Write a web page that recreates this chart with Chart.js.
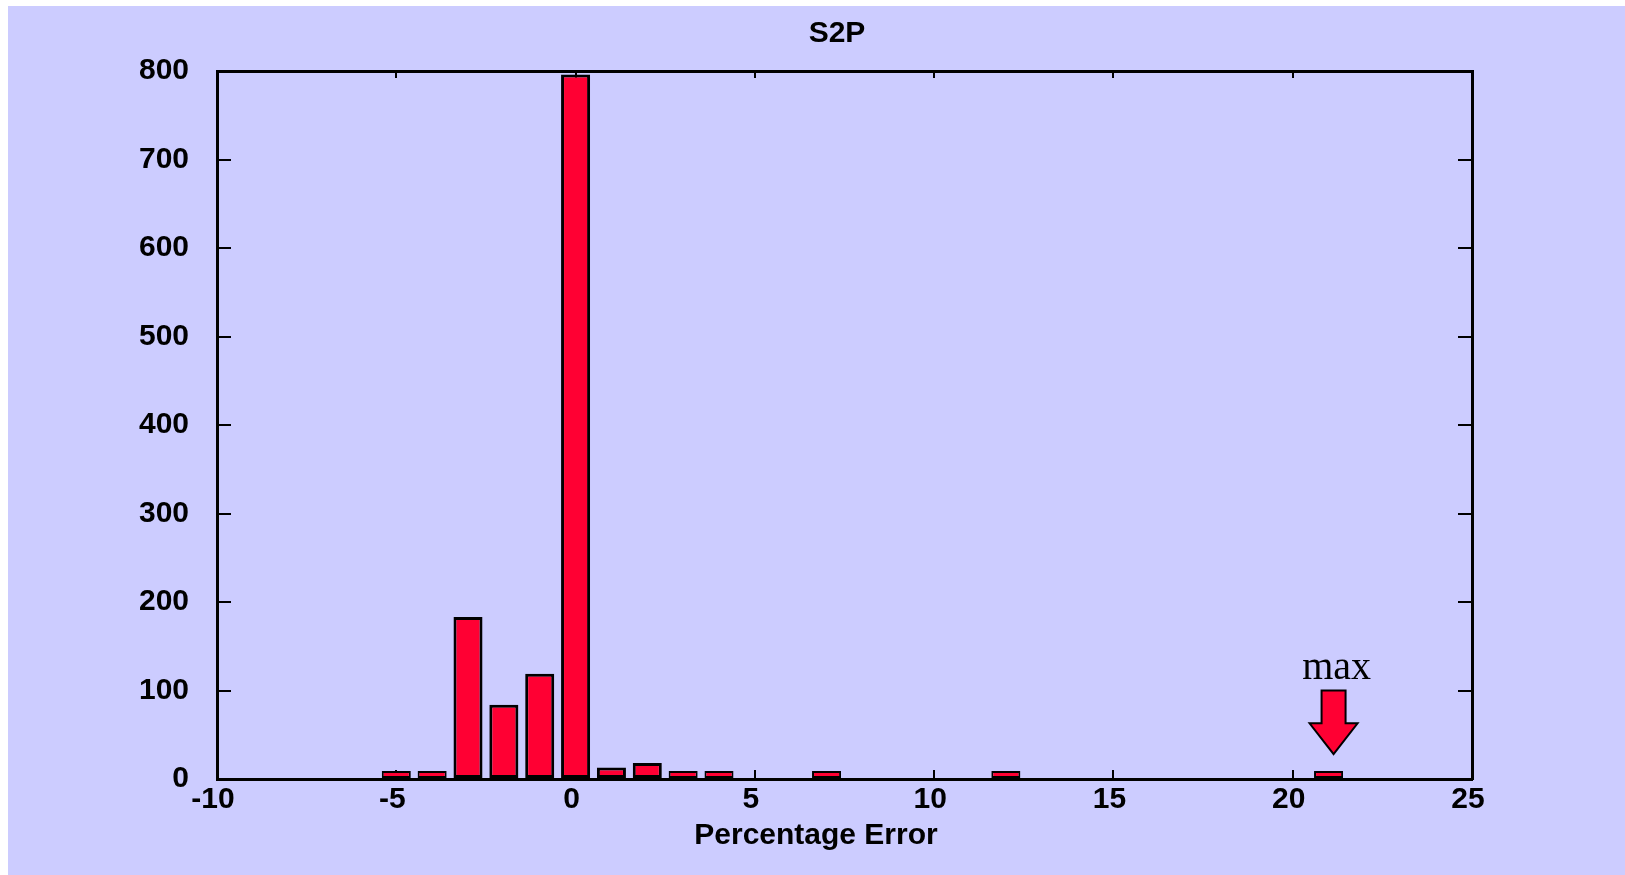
<!DOCTYPE html>
<html>
<head>
<meta charset="utf-8">
<script src="https://cdn.jsdelivr.net/npm/chart.js@4.4.1/dist/chart.umd.min.js"></script>
<style>
  body { margin: 0; background: #ffffff; }
  #panel { position: absolute; left: 8px; top: 6px; width: 1617px; height: 869px; background: #ccccff; }
</style>
</head>
<body>
<div id="panel"><canvas id="histChart"></canvas></div>
<script>
// histogram data: bin centre (percentage error) and count
const binCentres = [-5, -4, -3, -2, -1, 0, 1, 2, 3, 4, 7, 12, 21];
const binCounts  = [1, 1, 183, 84, 119, 796, 13, 18, 5, 1, 1, 1, 1];

// axis ranges / tick steps
const xRange = [-10, 25];
const xStep = 5;
const yRange = [0, 800];
const yStep = 100;

const chartTitle = "S2P";
const xTitle = "Percentage Error";
const maxLabel = "max";
const maxValue = 21;

const BOLD = "bold 30px 'Liberation Sans', Arial, sans-serif";

// ----------------- ANNOTATIONS -----------------
const extras = {
    id: "extras",
    afterDraw(chart) {
        const c = chart.ctx;
        const xs = chart.scales.x;
        const ys = chart.scales.y;
        c.save();
        c.fillStyle = "#000";
        c.font = BOLD;
        c.textAlign = "center";
        c.textBaseline = "alphabetic";
        c.fillText(chartTitle, 829, 36);
        c.fillText(xTitle, 808, 838);

        // max arrow
        const cx = xs.getPixelForValue(maxValue) + 5;
        const yTop = ys.getPixelForValue(100);
        const yNeck = ys.getPixelForValue(63);
        const yTip = ys.getPixelForValue(28);
        c.beginPath();
        c.moveTo(cx - 12, yTop);
        c.lineTo(cx + 12, yTop);
        c.lineTo(cx + 12, yNeck);
        c.lineTo(cx + 24, yNeck);
        c.lineTo(cx, yTip);
        c.lineTo(cx - 24, yNeck);
        c.lineTo(cx - 12, yNeck);
        c.closePath();
        c.fillStyle = "#ff0033";
        c.fill();
        c.lineWidth = 2;
        c.strokeStyle = "#000";
        c.stroke();

        c.fillStyle = "#000";
        c.font = "40px 'Liberation Serif', 'Times New Roman', serif";
        c.fillText(maxLabel, cx + 3, ys.getPixelForValue(113));
        c.restore();
    }
};

// ----------------- CHART SETUP -----------------
const ctx = document.getElementById("histChart").getContext("2d");

const tickFont = { family: "'Liberation Sans', Arial, sans-serif", size: 30, weight: "bold" };

const histChart = new Chart(ctx, {
    type: "bar",
    data: {
        datasets: [{
            data: binCentres.map((x, i) => ({ x: x, y: binCounts[i] })),
            backgroundColor: "#ff0033",
            borderColor: "#000000",
            borderWidth: c => (c.raw && c.raw.y < 10 ? 2 : 3),
            borderSkipped: false,
            barPercentage: 0.81,
            categoryPercentage: 1.0,
            minBarLength: 8
        }]
    },
    options: {
        responsive: true,
        maintainAspectRatio: false,
        animation: false,
        layout: { padding: 0 },
        plugins: {
            legend: { display: false },
            tooltip: { enabled: false }
        },
        scales: {
            x: {
                type: "linear",
                position: "bottom",
                min: xRange[0],
                max: xRange[1],
                offset: false,
                afterFit: s => { s.height = 96; },
                ticks: { stepSize: xStep, autoSkip: false, maxRotation: 0, color: "#000", font: tickFont, padding: 12, labelOffset: -4 },
                grid: { offset: false, drawOnChartArea: false, tickLength: -9, color: "#000", lineWidth: 2 },
                border: { color: "#000", width: 3 }
            },
            x2: {
                type: "linear",
                position: "top",
                min: xRange[0],
                max: xRange[1],
                offset: false,
                afterFit: s => { s.height = 65; },
                ticks: { stepSize: xStep, autoSkip: false, display: false },
                grid: { offset: false, drawOnChartArea: false, tickLength: -7, color: "#000", lineWidth: 2 },
                border: { color: "#000", width: 3 }
            },
            y: {
                position: "left",
                min: yRange[0],
                max: yRange[1],
                afterFit: s => { s.width = 209; },
                ticks: { stepSize: yStep, color: "#000", font: tickFont, padding: 42 },
                grid: { drawOnChartArea: false, tickLength: -14, color: "#000", lineWidth: 2 },
                border: { color: "#000", width: 3 }
            },
            y2: {
                position: "right",
                min: yRange[0],
                max: yRange[1],
                afterFit: s => { s.width = 153; },
                ticks: { stepSize: yStep, display: false },
                grid: { drawOnChartArea: false, tickLength: -14, color: "#000", lineWidth: 2 },
                border: { color: "#000", width: 3 }
            }
        }
    },
    plugins: [extras]
});
</script>
</body>
</html>
